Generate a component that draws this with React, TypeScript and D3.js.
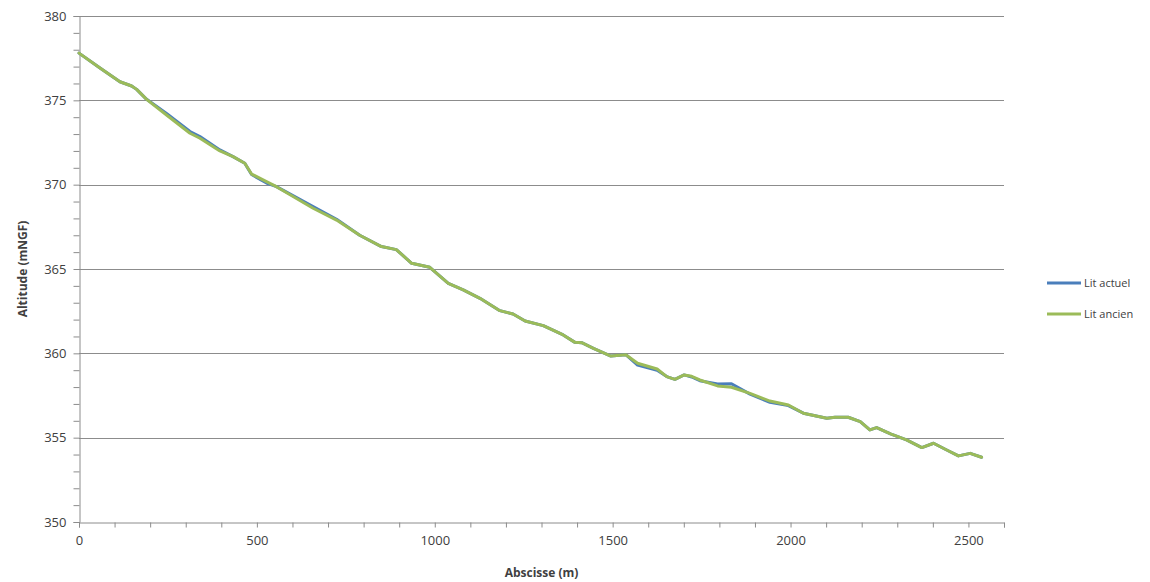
import { useEffect, useRef } from "react";
import * as d3 from "d3";

// abscisses (m) and altitudes (mNGF)
const abscisse = [
  0, 60, 115, 148, 162, 190, 246, 312, 340, 396, 433, 466, 485, 527, 555, 658, 724, 789, 850, 892,
  935, 986, 1038, 1080, 1127, 1183, 1220, 1254, 1305, 1361, 1394, 1413, 1446, 1495, 1537, 1570,
  1625, 1652, 1675, 1701, 1722, 1745, 1795, 1834, 1886, 1942, 1994, 2036, 2102, 2125, 2162, 2196,
  2223, 2242, 2281, 2326, 2369, 2402, 2439, 2472, 2505, 2537,
];
const litActuel = [
  377.8, 376.9, 376.1, 375.85, 375.65, 375.06, 374.22, 373.15, 372.85, 372.06, 371.66, 371.27,
  370.6, 370.1, 369.88, 368.7, 367.95, 367.0, 366.33, 366.15, 365.34, 365.1, 364.15, 363.76,
  363.26, 362.53, 362.33, 361.92, 361.64, 361.09, 360.65, 360.63, 360.3, 359.84, 359.92, 359.3,
  359.0, 358.62, 358.46, 358.72, 358.6, 358.38, 358.18, 358.2, 357.58, 357.1, 356.9, 356.45,
  356.15, 356.21, 356.21, 355.95, 355.46, 355.6, 355.22, 354.87, 354.41, 354.67, 354.27, 353.92,
  354.07, 353.84,
];
const litAncien = [
  377.8, 376.9, 376.1, 375.85, 375.65, 375.06, 374.13, 373.05, 372.75, 372.0, 371.66, 371.27,
  370.63, 370.18, 369.88, 368.6, 367.9, 367.0, 366.33, 366.15, 365.34, 365.1, 364.15, 363.76,
  363.26, 362.53, 362.33, 361.92, 361.64, 361.09, 360.65, 360.63, 360.3, 359.84, 359.92, 359.41,
  359.07, 358.62, 358.46, 358.72, 358.64, 358.42, 358.07, 357.99, 357.63, 357.17, 356.94, 356.45,
  356.15, 356.21, 356.21, 355.95, 355.46, 355.6, 355.22, 354.87, 354.41, 354.67, 354.27, 353.92,
  354.07, 353.84,
];
const series = [
  { name: "Lit actuel", values: litActuel, color: "#4a7ebb" },
  { name: "Lit ancien", values: litAncien, color: "#9bbb59" },
];
const yMajor = [350, 355, 360, 365, 370, 375, 380];
const xMajor = [0, 500, 1000, 1500, 2000, 2500];

const W = 1150;
const H = 582;
const margin = { top: 16, right: 146, bottom: 60, left: 79 };
const FONT = "'Open Sans', 'DejaVu Sans', sans-serif";
const TEXT = "#404040";
const GRID = "#8c8c8c";

export default function App() {
  const ref = useRef<SVGSVGElement>(null);

  useEffect(() => {
    const svg = d3.select(ref.current);
    svg.selectAll("*").remove();
    const innerW = W - margin.left - margin.right;
    const innerH = H - margin.top - margin.bottom;

    const x = d3.scaleLinear().domain([0, 2600]).range([0, innerW]);
    const y = d3.scaleLinear().domain([350, 380]).range([innerH, 0]);

    const g = svg.append("g").attr("transform", `translate(${margin.left},${margin.top})`);

    // horizontal gridlines
    g.append("g")
      .selectAll("line")
      .data(yMajor.filter((v) => v !== 350))
      .enter()
      .append("line")
      .attr("x1", 0)
      .attr("x2", innerW)
      .attr("y1", (d) => Math.round(y(d)) + 0.5)
      .attr("y2", (d) => Math.round(y(d)) + 0.5)
      .attr("stroke", GRID)
      .attr("stroke-width", 1);

    // y axis
    const yAxis = d3
      .axisLeft(y)
      .tickValues(d3.range(350, 381, 1))
      .tickSize(6)
      .tickFormat((d) => (yMajor.includes(+d) ? String(d) : ""));
    const ya = g.append("g").attr("transform", "translate(0.5,0)").call(yAxis);
    ya.select(".domain").attr("stroke", GRID);
    ya.selectAll(".tick line").attr("stroke", GRID);
    ya.selectAll(".tick text")
      .attr("x", -13)
      .attr("fill", TEXT)
      .style("font-family", FONT)
      .style("font-size", "13px");

    // x axis
    const xAxis = d3
      .axisBottom(x)
      .tickValues(d3.range(0, 2601, 100))
      .tickSize(5)
      .tickSizeOuter(5)
      .tickFormat((d) => (xMajor.includes(+d) ? String(d) : ""));
    const xa = g.append("g").attr("transform", `translate(0,${Math.round(innerH) + 0.5})`).call(xAxis);
    xa.select(".domain").attr("stroke", GRID);
    xa.selectAll(".tick line").attr("stroke", GRID);
    xa.selectAll(".tick text")
      .attr("y", 13)
      .attr("fill", TEXT)
      .style("font-family", FONT)
      .style("font-size", "13px");

    // profiles
    const line = d3
      .line<number>()
      .x((_, i) => x(abscisse[i]))
      .y((d) => y(d));
    series.forEach((s) => {
      g.append("path")
        .attr("d", line(s.values))
        .attr("fill", "none")
        .attr("stroke", s.color)
        .attr("stroke-width", 3)
        .attr("stroke-linejoin", "round")
        .attr("stroke-linecap", "round");
    });

    // axis titles
    svg.append("text")
      .attr("x", margin.left + x(1300))
      .attr("y", 577)
      .attr("text-anchor", "middle")
      .attr("fill", TEXT)
      .style("font-family", FONT)
      .style("font-size", "12px")
      .style("font-weight", "bold")
      .text("Abscisse (m)");
    svg.append("text")
      .attr("transform", `translate(27,${margin.top + innerH / 2}) rotate(-90)`)
      .attr("text-anchor", "middle")
      .attr("fill", TEXT)
      .style("font-family", FONT)
      .style("font-size", "12px")
      .style("font-weight", "bold")
      .text("Altitude (mNGF)");

    // legend
    const leg = svg.append("g").attr("transform", "translate(1047,283)");
    series.forEach((s, i) => {
      const row = leg.append("g").attr("transform", `translate(0,${i * 31})`);
      row.append("line")
        .attr("x1", 0)
        .attr("x2", 34)
        .attr("stroke", s.color)
        .attr("stroke-width", 3);
      row.append("text")
        .attr("x", 37)
        .attr("y", 4)
        .attr("fill", TEXT)
        .style("font-family", FONT)
        .style("font-size", "11px")
        .text(s.name);
    });
  }, []);

  return (
    <svg
      ref={ref}
      width={W}
      height={H}
      style={{ position: "absolute", left: 0, top: 0, background: "#fff" }}
    />
  );
}
